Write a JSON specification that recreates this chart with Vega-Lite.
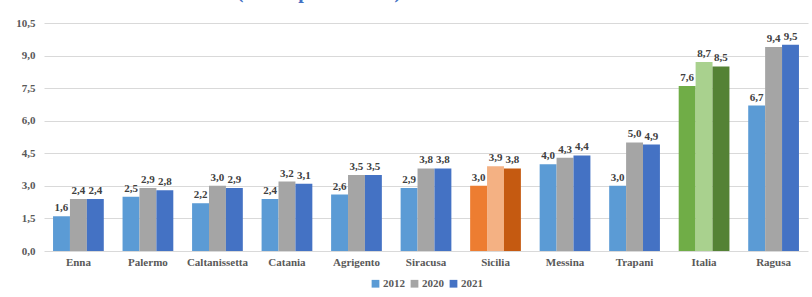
{
  "$schema": "https://vega.github.io/schema/vega-lite/v6.json",
  "autosize": "none",
  "width": 764,
  "height": 228,
  "padding": {"left": 44, "top": 23, "right": 4, "bottom": 46},
  "title": {
    "text": "Anni 2012-2021 (valori percentuali)",
    "anchor": "start",
    "dx": 82,
    "dy": 13,
    "offset": 12,
    "baseline": "alphabetic",
    "font": "Liberation Serif",
    "fontSize": 20,
    "fontWeight": "bold",
    "color": "#4472C4"
  },
  "data": {
    "values": [
      {"territorio": "Enna", "anno": "2012", "valore": 1.6},
      {"territorio": "Enna", "anno": "2020", "valore": 2.4},
      {"territorio": "Enna", "anno": "2021", "valore": 2.4},
      {"territorio": "Palermo", "anno": "2012", "valore": 2.5},
      {"territorio": "Palermo", "anno": "2020", "valore": 2.9},
      {"territorio": "Palermo", "anno": "2021", "valore": 2.8},
      {"territorio": "Caltanissetta", "anno": "2012", "valore": 2.2},
      {"territorio": "Caltanissetta", "anno": "2020", "valore": 3.0},
      {"territorio": "Caltanissetta", "anno": "2021", "valore": 2.9},
      {"territorio": "Catania", "anno": "2012", "valore": 2.4},
      {"territorio": "Catania", "anno": "2020", "valore": 3.2},
      {"territorio": "Catania", "anno": "2021", "valore": 3.1},
      {"territorio": "Agrigento", "anno": "2012", "valore": 2.6},
      {"territorio": "Agrigento", "anno": "2020", "valore": 3.5},
      {"territorio": "Agrigento", "anno": "2021", "valore": 3.5},
      {"territorio": "Siracusa", "anno": "2012", "valore": 2.9},
      {"territorio": "Siracusa", "anno": "2020", "valore": 3.8},
      {"territorio": "Siracusa", "anno": "2021", "valore": 3.8},
      {"territorio": "Sicilia", "anno": "2012", "valore": 3.0},
      {"territorio": "Sicilia", "anno": "2020", "valore": 3.9},
      {"territorio": "Sicilia", "anno": "2021", "valore": 3.8},
      {"territorio": "Messina", "anno": "2012", "valore": 4.0},
      {"territorio": "Messina", "anno": "2020", "valore": 4.3},
      {"territorio": "Messina", "anno": "2021", "valore": 4.4},
      {"territorio": "Trapani", "anno": "2012", "valore": 3.0},
      {"territorio": "Trapani", "anno": "2020", "valore": 5.0},
      {"territorio": "Trapani", "anno": "2021", "valore": 4.9},
      {"territorio": "Italia", "anno": "2012", "valore": 7.6},
      {"territorio": "Italia", "anno": "2020", "valore": 8.7},
      {"territorio": "Italia", "anno": "2021", "valore": 8.5},
      {"territorio": "Ragusa", "anno": "2012", "valore": 6.7},
      {"territorio": "Ragusa", "anno": "2020", "valore": 9.4},
      {"territorio": "Ragusa", "anno": "2021", "valore": 9.5}
    ]
  },
  "transform": [
    {"calculate": "(datum.territorio == 'Sicilia' ? 'Sicilia ' : datum.territorio == 'Italia' ? 'Italia ' : '') + datum.anno", "as": "serie"}
  ],
  "encoding": {
    "x": {
      "field": "territorio",
      "type": "nominal",
      "sort": ["Enna", "Palermo", "Caltanissetta", "Catania", "Agrigento", "Siracusa", "Sicilia", "Messina", "Trapani", "Italia", "Ragusa"],
      "scale": {"paddingInner": 0.27, "paddingOuter": 0.13},
      "axis": {
        "title": null,
        "labelAngle": 0,
        "ticks": false,
        "domain": false,
        "labelPadding": 5,
        "labelFont": "Liberation Serif",
        "labelFontSize": 11,
        "labelFontWeight": "bold",
        "labelColor": "#595959"
      }
    },
    "xOffset": {"field": "anno", "type": "nominal", "sort": ["2012", "2020", "2021"]},
    "y": {
      "field": "valore",
      "type": "quantitative",
      "scale": {"domain": [0, 10.5], "nice": false},
      "axis": {
        "title": null,
        "values": [0, 1.5, 3, 4.5, 6, 7.5, 9, 10.5],
        "format": ".1f",
        "ticks": false,
        "domain": false,
        "labelPadding": 9,
        "labelFont": "Liberation Serif",
        "labelFontSize": 11,
        "labelFontWeight": "bold",
        "labelColor": "#595959",
        "gridColor": "#D9D9D9",
        "gridWidth": 1
      }
    }
  },
  "layer": [
    {
      "mark": {"type": "bar"},
      "encoding": {
        "color": {
          "field": "serie",
          "type": "nominal",
          "scale": {
            "domain": ["2012", "2020", "2021", "Sicilia 2012", "Sicilia 2020", "Sicilia 2021", "Italia 2012", "Italia 2020", "Italia 2021"],
            "range": ["#5B9BD5", "#A5A5A5", "#4472C4", "#ED7D31", "#F4B183", "#C55A11", "#70AD47", "#A9D18E", "#548235"]
          },
          "legend": {
            "values": ["2012", "2020", "2021"],
            "title": null,
            "orient": "bottom",
            "direction": "horizontal",
            "symbolType": "square",
            "symbolSize": 60,
            "symbolStrokeWidth": 0,
            "labelFont": "Liberation Serif",
            "labelFontSize": 11,
            "labelFontWeight": "bold",
            "labelColor": "#595959",
            "labelOffset": 2,
            "columnPadding": 4,
            "offset": 11
          }
        }
      }
    },
    {
      "mark": {
        "type": "text",
        "dy": -8,
        "font": "Liberation Serif",
        "fontSize": 11,
        "fontWeight": "bold",
        "color": "#404040"
      },
      "encoding": {
        "text": {"field": "valore", "type": "quantitative", "format": ".1f"}
      }
    }
  ],
  "config": {
    "locale": {
      "number": {"decimal": ",", "thousands": ".", "grouping": [3], "currency": ["", " €"]}
    },
    "legend": {"layout": {"bottom": {"anchor": "middle"}}},
    "view": {"stroke": null},
    "background": "white"
  }
}
